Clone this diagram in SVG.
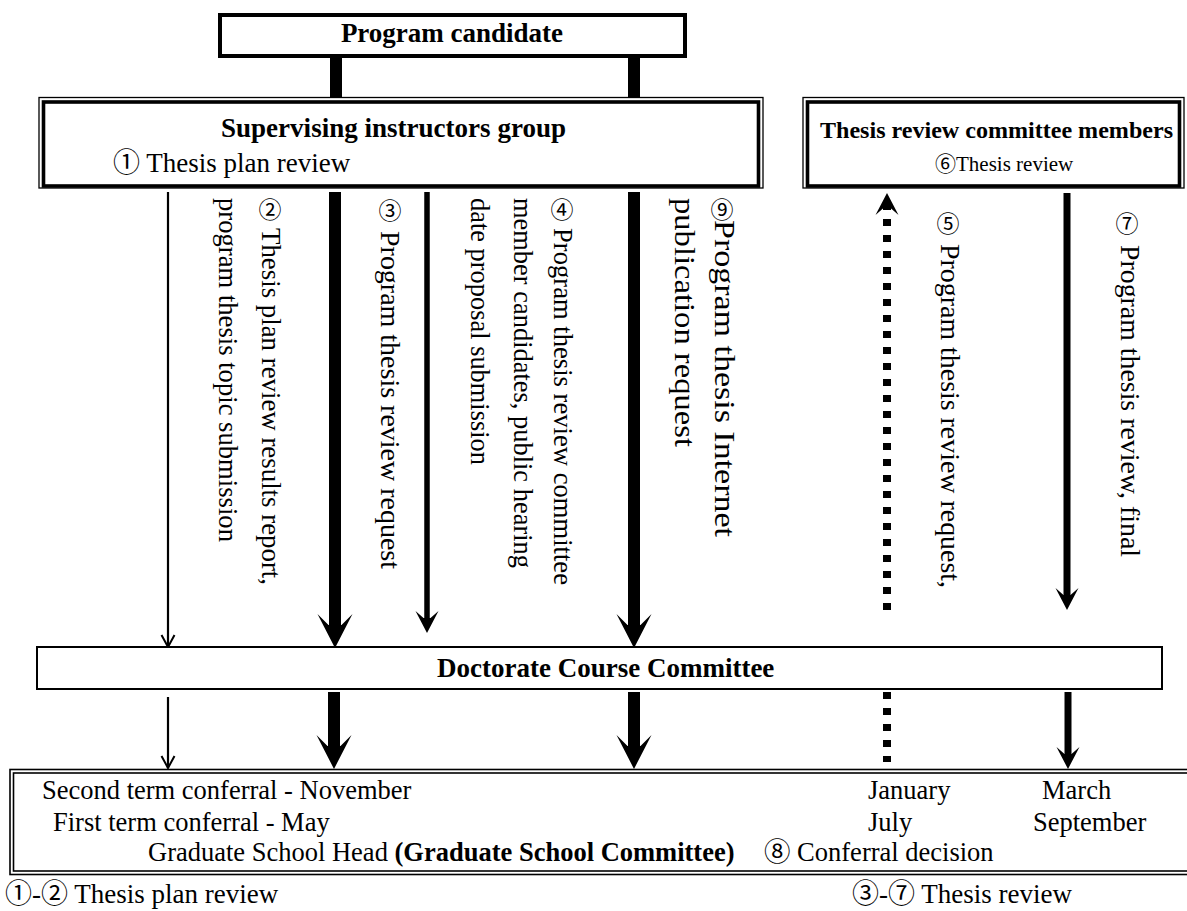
<svg xmlns="http://www.w3.org/2000/svg" width="1187" height="911" viewBox="0 0 1187 911">
<style>
text{font-family:"Liberation Serif","Noto Sans CJK JP",serif;fill:#000}
.t{font-size:27px}
.s{font-size:26.5px}
.b{font-weight:bold}
.cd{font-family:"Noto Sans CJK JP","Liberation Serif",sans-serif;font-size:23px;text-anchor:middle}
.v{font-size:27px}
.v9{font-size:28.5px}
.box{fill:#fff;stroke:#000}
.thin{stroke-width:1.3}
.heavy{stroke-width:3.6}
.ln{stroke:#000;fill:none}
</style>
<defs>
<marker id="hL" viewBox="-35 -18 36 36" markerWidth="36" markerHeight="36" refX="-22" refY="0" orient="auto" markerUnits="userSpaceOnUse">
<path d="M0,0 L-34,-17.5 L-23,-6.5 L-23,6.5 L-34,17.5 Z" fill="#000"/>
</marker>
<marker id="hM" viewBox="-23 -12 24 24" markerWidth="24" markerHeight="24" refX="-14" refY="0" orient="auto" markerUnits="userSpaceOnUse">
<path d="M0,0 L-22,-11.5 L-15,-3.5 L-15,3.5 L-22,11.5 Z" fill="#000"/>
</marker>
<marker id="hT" viewBox="-14 -8 16 16" markerWidth="16" markerHeight="16" refX="0" refY="0" orient="auto" markerUnits="userSpaceOnUse">
<path d="M-12,-6.5 L0,0 L-12,6.5" fill="none" stroke="#000" stroke-width="2"/>
</marker>
</defs>
<rect width="1187" height="911" fill="#fff"/>

<g id="connectors">
<rect x="330" y="56" width="12" height="42" fill="#000"/>
<rect x="628" y="56" width="12" height="42" fill="#000"/>
<line class="ln" x1="168" y1="192" x2="168" y2="647" stroke-width="2.2" marker-end="url(#hT)"/>
<line class="ln" x1="335" y1="192" x2="335" y2="626" stroke-width="12" marker-end="url(#hL)"/>
<line class="ln" x1="427" y1="192" x2="427" y2="619" stroke-width="5.5" marker-end="url(#hM)"/>
<line class="ln" x1="634" y1="192" x2="634" y2="626" stroke-width="12" marker-end="url(#hL)"/>
<line class="ln" x1="887" y1="610" x2="887" y2="207" stroke-width="8" stroke-dasharray="7 9" marker-end="url(#hM)"/>
<line class="ln" x1="1067" y1="193" x2="1067" y2="596" stroke-width="7" marker-end="url(#hM)"/>
<line class="ln" x1="168" y1="697" x2="168" y2="768" stroke-width="2.2" marker-end="url(#hT)"/>
<line class="ln" x1="334" y1="692" x2="334" y2="747" stroke-width="12" marker-end="url(#hL)"/>
<line class="ln" x1="634" y1="692" x2="634" y2="747" stroke-width="12" marker-end="url(#hL)"/>
<line class="ln" x1="887" y1="692" x2="887" y2="762" stroke-width="8" stroke-dasharray="7 9"/>
<line class="ln" x1="1068" y1="692" x2="1068" y2="755" stroke-width="7" marker-end="url(#hM)"/>
</g>

<g id="connector-labels">
<text class="v" transform="translate(218.7,198) rotate(90)" textLength="344" lengthAdjust="spacingAndGlyphs">program thesis topic submission</text>
<text class="cd" x="270" y="218">②</text>
<text class="v" transform="translate(261.7,228) rotate(90)" textLength="357" lengthAdjust="spacingAndGlyphs">Thesis plan review results report,</text>
<text class="cd" x="390" y="219">③</text>
<text class="v" transform="translate(380.7,231) rotate(90)" textLength="338" lengthAdjust="spacingAndGlyphs">Program thesis review request</text>
<text class="v" transform="translate(470.7,198) rotate(90)" textLength="267" lengthAdjust="spacingAndGlyphs">date proposal submission</text>
<text class="v" transform="translate(513.7,198) rotate(90)" textLength="370" lengthAdjust="spacingAndGlyphs">member candidates, public hearing</text>
<text class="cd" x="562" y="218">④</text>
<text class="v" transform="translate(553.7,228) rotate(90)" textLength="357" lengthAdjust="spacingAndGlyphs">Program thesis review committee</text>
<text class="v9" transform="translate(675,198) rotate(90)" textLength="249" lengthAdjust="spacingAndGlyphs">publication request</text>
<text class="cd" x="722" y="218">⑨</text>
<text class="v9" transform="translate(715,220) rotate(90)" textLength="317" lengthAdjust="spacingAndGlyphs">Program thesis Internet</text>
<text class="cd" x="948" y="232">⑤</text>
<text class="v" transform="translate(940.7,244) rotate(90)" textLength="344" lengthAdjust="spacingAndGlyphs">Program thesis review request,</text>
<text class="cd" x="1127" y="232">⑦</text>
<text class="v" transform="translate(1120.7,245) rotate(90)" textLength="312" lengthAdjust="spacingAndGlyphs">Program thesis review, final</text>
</g>

<g id="program-candidate">
<rect class="box" x="220" y="15" width="465" height="41" stroke-width="4"/>
<text class="t b" x="452" y="42" text-anchor="middle" font-size="28">Program candidate</text>
</g>

<g id="supervising-instructors">
<rect class="box thin" x="39" y="97.5" width="724" height="90.5"/>
<rect class="box heavy" x="43.5" y="102" width="715" height="84"/>
<text class="t b" x="221" y="137" textLength="345" lengthAdjust="spacingAndGlyphs">Supervising instructors group</text>
<text class="t" x="113" y="172">① Thesis plan review</text>
</g>

<g id="thesis-review-committee">
<rect class="box thin" x="803" y="97.5" width="381" height="90.5"/>
<rect class="box heavy" x="807.5" y="102" width="372" height="84"/>
<text class="b" x="820" y="138" font-size="24" textLength="353" lengthAdjust="spacingAndGlyphs">Thesis review committee members</text>
<text x="935" y="171" font-size="21">⑥Thesis review</text>
</g>

<g id="doctorate-course-committee">
<rect class="box" x="37" y="647" width="1125" height="42" stroke-width="2"/>
<text class="t b" x="437" y="677">Doctorate Course Committee</text>
</g>

<g id="graduate-school">
<rect class="box" x="10" y="769.5" width="1190" height="105" stroke-width="1.6"/>
<rect class="box" x="13.5" y="773" width="1190" height="98" stroke-width="1.6"/>
<text class="s" x="42" y="799">Second term conferral - November</text>
<text class="s" x="53" y="831">First term conferral - May</text>
<text class="s" x="148" y="861">Graduate School Head <tspan class="b">(Graduate School Committee)</tspan></text>
<text class="s" x="764" y="861">⑧ Conferral decision</text>
<text class="s" x="868" y="799">January</text>
<text class="s" x="868" y="831">July</text>
<text class="s" x="1042" y="799">March</text>
<text class="s" x="1033" y="831">September</text>
</g>

<g id="phase-labels">
<text class="t" x="5" y="903">①-② Thesis plan review</text>
<text class="t" x="852" y="903">③-⑦ Thesis review</text>
</g>
</svg>
